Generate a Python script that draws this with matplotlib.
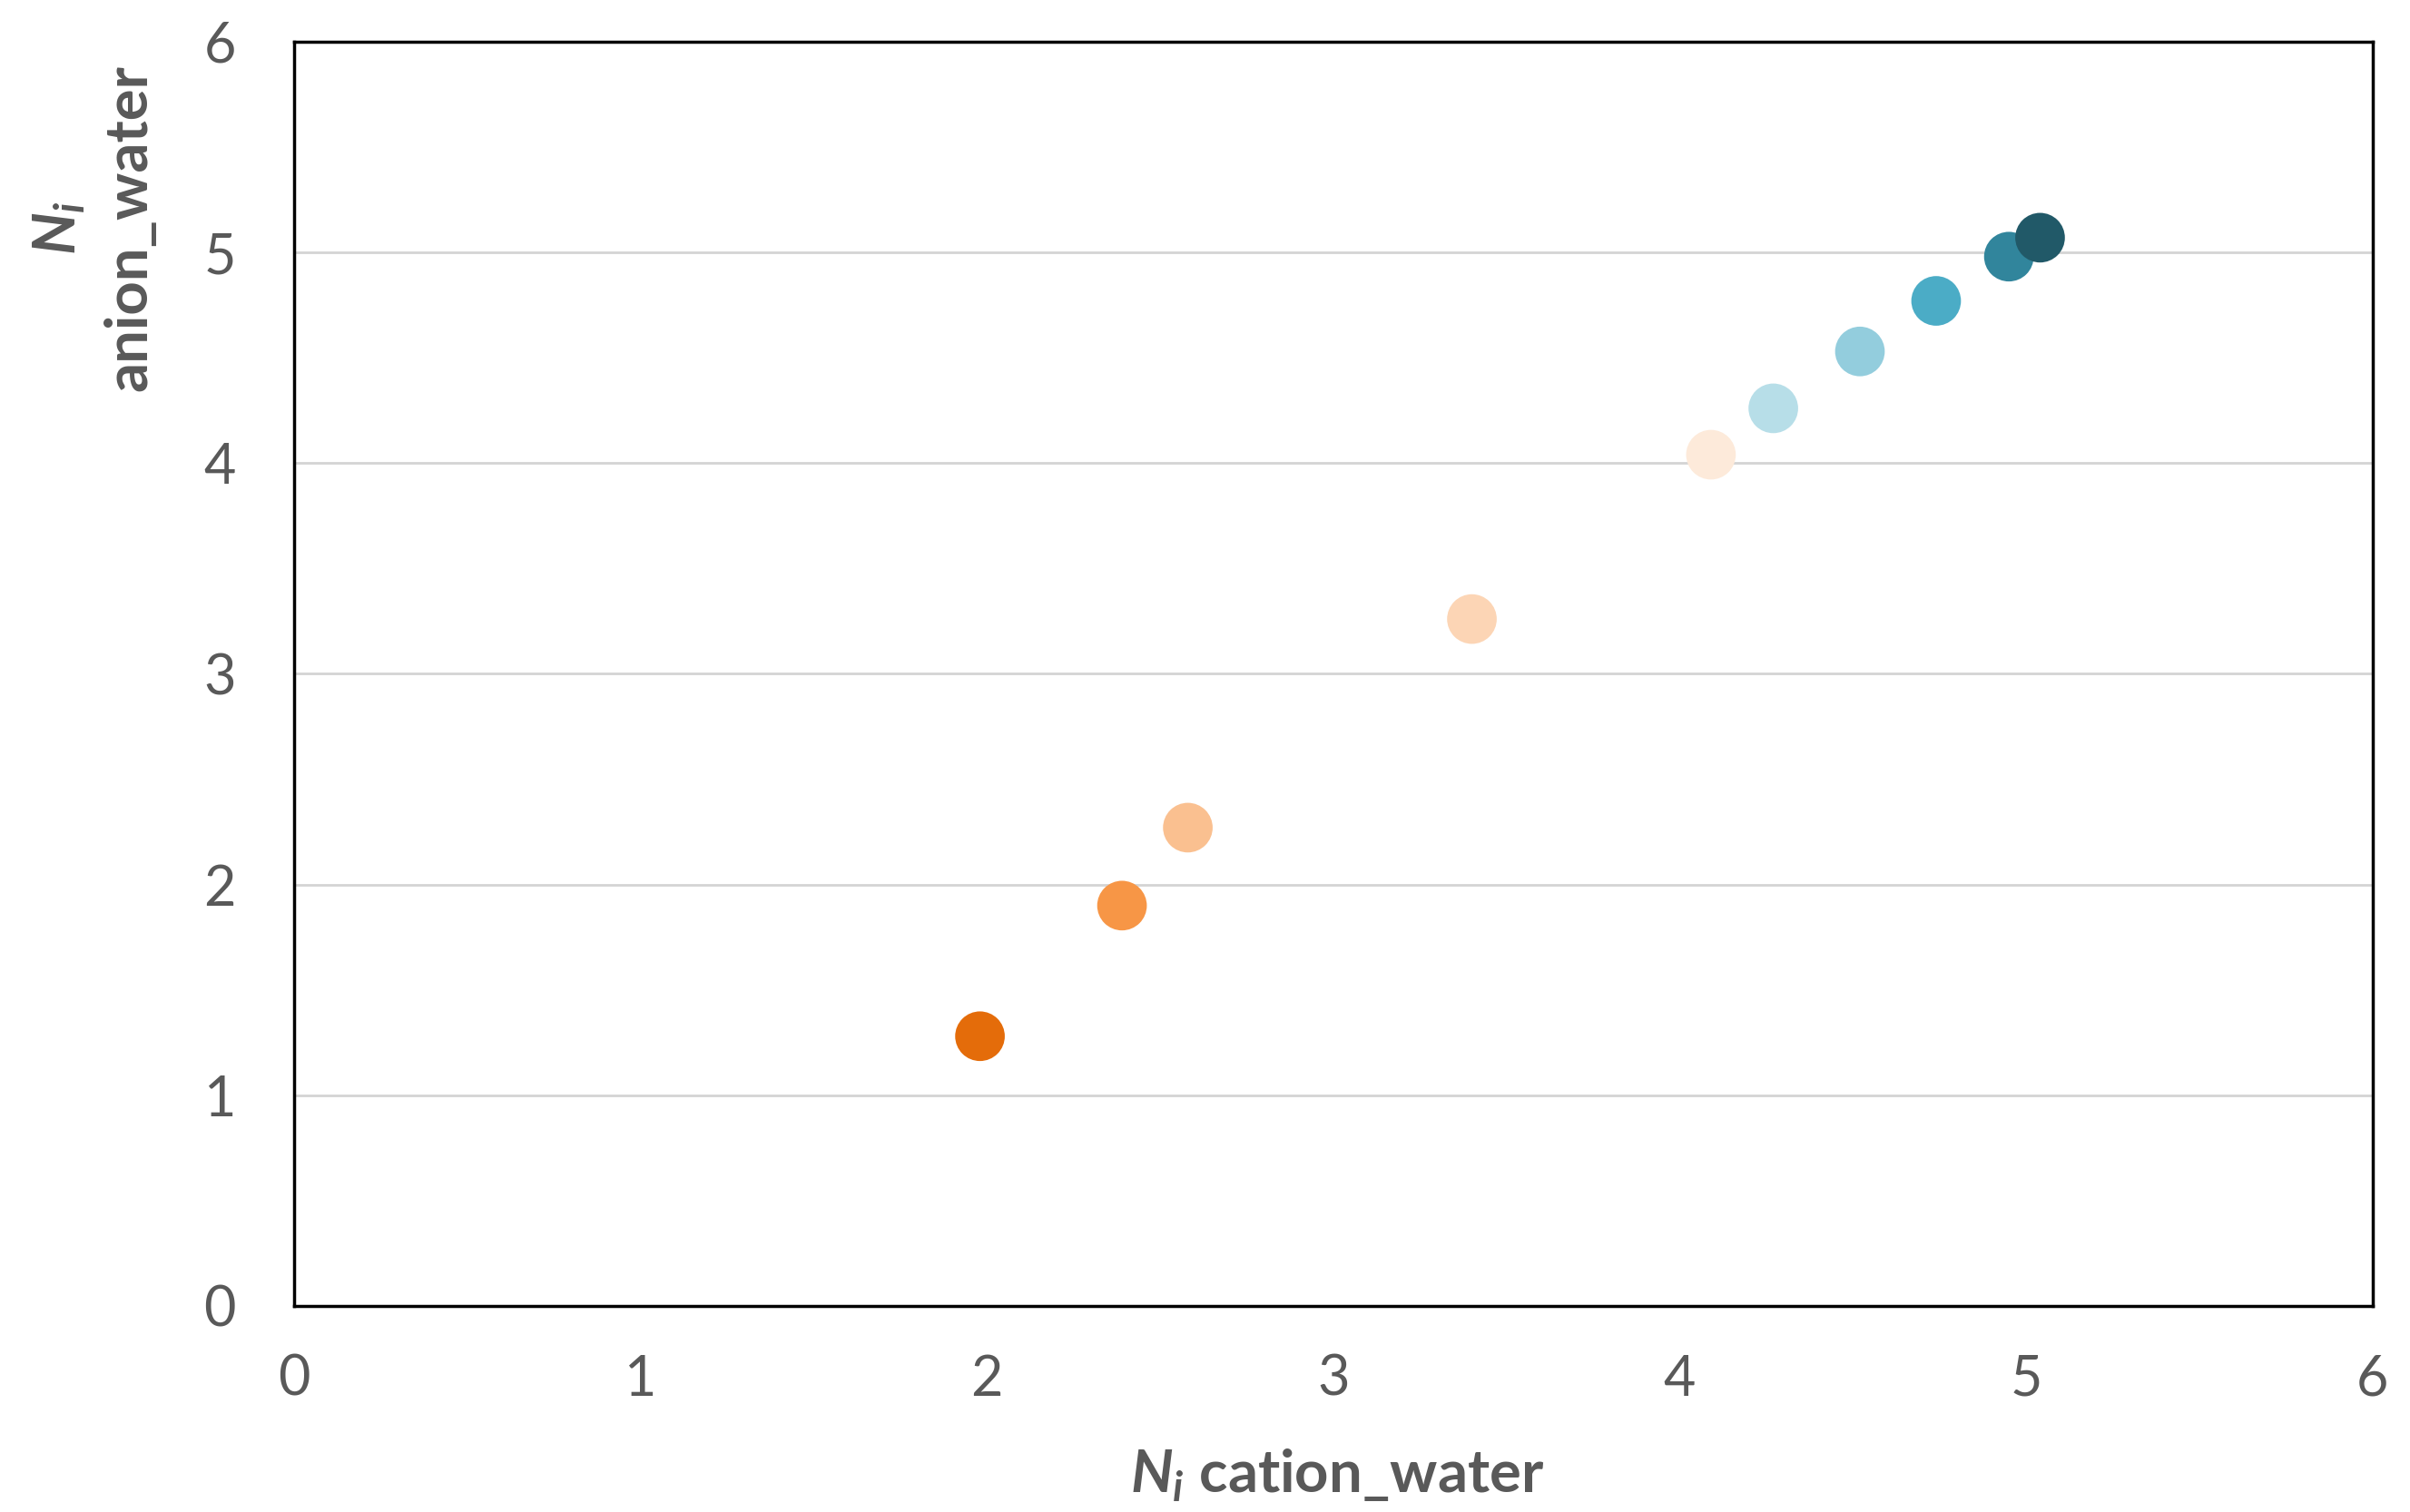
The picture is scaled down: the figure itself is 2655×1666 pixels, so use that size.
import matplotlib

matplotlib.use("Agg")
import matplotlib.pyplot as plt

# 数据：点
cation_water = [1.98, 2.39, 2.58, 3.40, 4.09, 4.27, 4.52, 4.74, 4.95, 5.04]
anion_water = [1.28, 1.90, 2.27, 3.26, 4.04, 4.26, 4.53, 4.77, 4.98, 5.07]
point_colors = ["#E46C0A", "#F79646", "#FAC090", "#FCD5B5", "#FDEADA",
                "#B7DEE8", "#93CDDD", "#4BACC6", "#31859C", "#215968"]
ticks = [0, 1, 2, 3, 4, 5, 6]

plt.rcParams["font.family"] = ["Lato", "DejaVu Sans"]
plt.rcParams["mathtext.fontset"] = "custom"
plt.rcParams["mathtext.it"] = "Lato:bold:italic"
plt.rcParams["mathtext.rm"] = "Lato:bold"

text_color = "#595959"

fig = plt.figure(figsize=(26.55, 16.66), dpi=100)
ax = fig.add_axes([0.122, 0.1363, 0.8625, 0.8361])

ax.scatter(cation_water, anion_water, s=1550, c=point_colors, edgecolors="none", zorder=3)

ax.set_xlim(0, 6)
ax.set_ylim(0, 6)
ax.set_xticks(ticks)
ax.set_yticks(ticks)
ax.tick_params(axis="both", length=0, labelsize=44, labelcolor=text_color)
ax.tick_params(axis="x", pad=38)
ax.tick_params(axis="y", pad=46)

ax.yaxis.grid(True, color="#D4D4D4", linewidth=2)
ax.set_axisbelow(True)
for sp in ax.spines.values():
    sp.set_color("black")
    sp.set_linewidth(2.5)

fig.text(0.555, 0.024, "$N_i$ cation_water", ha="center", va="center",
         fontsize=47, fontweight="bold", color=text_color)
fig.text(0.0245, 0.849, "$N_i$", ha="center", va="center", rotation=90,
         fontsize=47, fontweight="bold", color=text_color)
fig.text(0.054, 0.849, "anion_water", ha="center", va="center", rotation=90,
         fontsize=47, fontweight="bold", color=text_color)

fig.savefig("out.png", dpi=100)
plt.close(fig)
